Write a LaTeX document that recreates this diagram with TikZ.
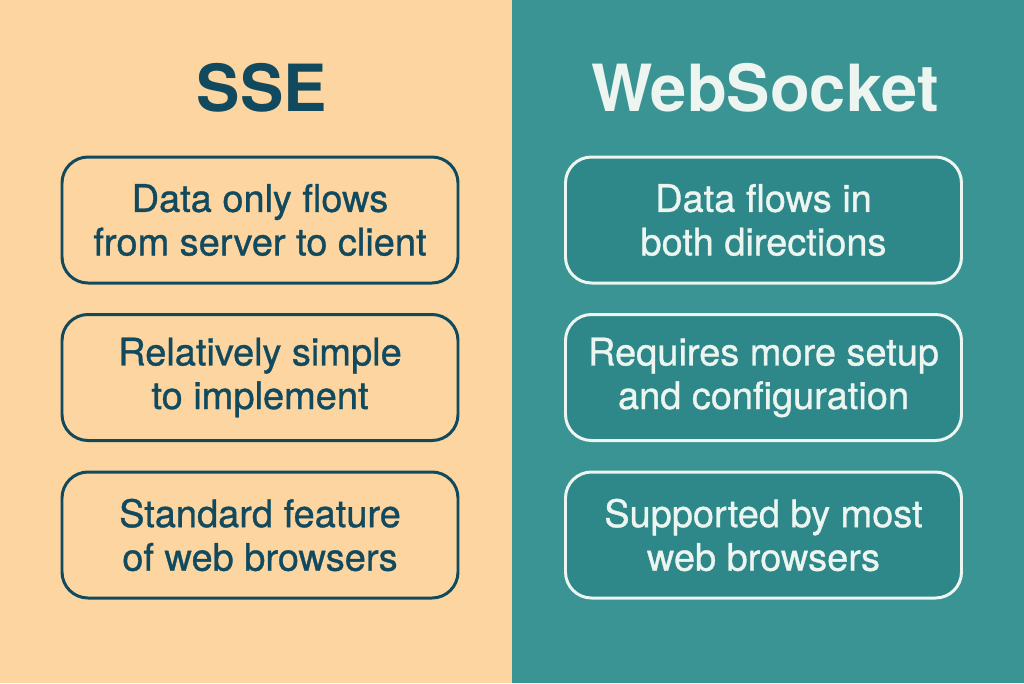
\documentclass[tikz,border=0pt]{standalone}
\usepackage{fontspec}
\setmainfont{TeX Gyre Heros}
\newfontfamily\boxfont[FakeBold=0.9]{TeX Gyre Heros}
\usetikzlibrary{positioning}
\definecolor{ssebg}{RGB}{252,213,160}
\definecolor{ssefg}{RGB}{17,74,94}
\definecolor{wsbg}{RGB}{58,148,148}
\definecolor{wsbox}{RGB}{46,136,137}
\definecolor{wsfg}{RGB}{236,245,240}
\tikzset{
  box_base/.style={
    rounded corners=0.26cm,
    line width=0.85pt,
    minimum width=3.96cm,
    minimum height=1.26cm,
    align=center,
    font=\boxfont\fontsize{10.8}{12.4}\selectfont
  },
  sse_box/.style={box_base, draw=ssefg, text=ssefg},
  ws_box/.style={box_base, draw=wsfg, fill=wsbox, text=wsfg},
  title_base/.style={font=\fontsize{18.5}{20}\selectfont\bfseries}
}

\begin{document}
\begin{tikzpicture}
\useasboundingbox (0,0) rectangle (10.24,-6.83);
\fill[ssebg] (0,0) rectangle (5.12,-6.83);
\fill[wsbg] (5.12,0) rectangle (10.24,-6.83);
\node[title_base, text=ssefg] (sse) at (2.62,-0.88) {SSE};
\node[title_base, text=wsfg] (ws) at (7.65,-0.88) {WebSocket};
\foreach [count = \i from 0] \t in {{Data only flows\\from server to client}, {Relatively simple\\to implement}, {Standard feature\\of web browsers}}{
\node[sse_box] (s\i) at (2.60, -2.20-1.575*\i) {\t};
}
\foreach [count = \i from 0] \t in {{Data flows in\\both directions}, {Requires more setup\\and configuration}, {Supported by most\\web browsers}}{
\node[ws_box] (w\i) at (7.635, -2.20-1.575*\i) {\t};
}
\end{tikzpicture}
\end{document}
